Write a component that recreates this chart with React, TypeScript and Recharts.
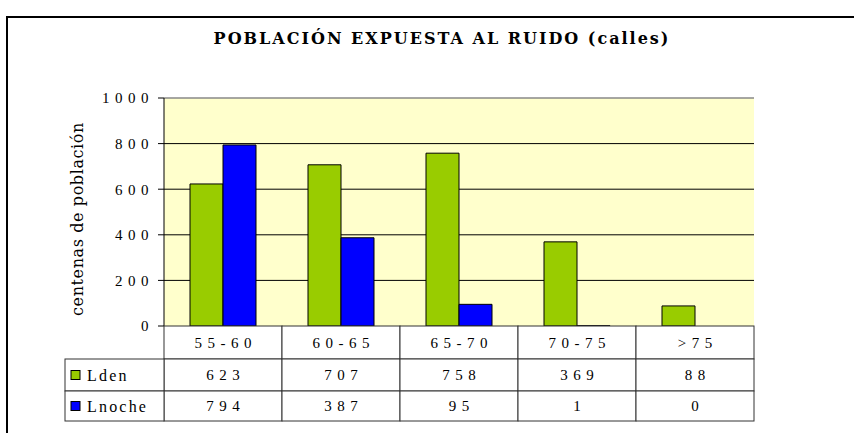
import React from 'react';
import { BarChart, Bar, XAxis, YAxis, CartesianGrid, ReferenceLine } from 'recharts';

const categories = ['55-60', '60-65', '65-70', '70-75', '>75'];
const ldenValues = [623, 707, 758, 369, 88];
const lnocheValues = [794, 387, 95, 1, 0];
const yTicks = [0, 200, 400, 600, 800, 1000];
const gridValues = [200, 400, 600, 800];
const seriesNames = ['Lden', 'Lnoche'];
const chartTitle = 'POBLACIÓN EXPUESTA AL RUIDO (calles)';
const yAxisTitle = 'centenas de población';

const data = categories.map((c, i) => ({ cat: c, Lden: ldenValues[i], Lnoche: lnocheValues[i] }));

const GREEN = '#99CC00';
const BLUE = '#0000FF';
const PLOT_BG = '#FFFFCC';
const WIDE_FONT = '"DejaVu Serif", serif';
const NUM_FONT = '"Liberation Serif", serif';
const TABLE_STROKE = '#333';
const NUM_LS = 5.5;

const CELL_W = 118;
const ROW1 = 33;
const ROW2 = 32;
const ROW3 = 30;
const LEG_W = 99;

function TableTick(props: any) {
  const { x, y, payload } = props;
  const i = categories.indexOf(payload.value);
  const left = x - CELL_W / 2;
  const numStyle = { fontFamily: NUM_FONT, fontSize: 15, letterSpacing: NUM_LS } as any;
  const legStyle = { fontFamily: NUM_FONT, fontSize: 16, letterSpacing: 2.2 } as any;
  const colors = [GREEN, BLUE];
  const series = [ldenValues, lnocheValues];
  return (
    <g>
      <rect x={left} y={y} width={CELL_W} height={ROW1} fill="#fff" stroke={TABLE_STROKE} />
      <text x={x + NUM_LS / 2} y={y + ROW1 / 2} textAnchor="middle" dominantBaseline="central" fill="#000" style={numStyle}>
        {payload.value}
      </text>
      {series.map((vals, s) => {
        const top = y + ROW1 + (s === 0 ? 0 : ROW2);
        const h = s === 0 ? ROW2 : ROW3;
        return (
          <g key={s}>
            <rect x={left} y={top} width={CELL_W} height={h} fill="#fff" stroke={TABLE_STROKE} />
            <text x={x + NUM_LS / 2} y={top + h / 2} textAnchor="middle" dominantBaseline="central" fill="#000" style={numStyle}>
              {vals[i]}
            </text>
            {i === 0 && (
              <g>
                <rect x={left - LEG_W} y={top} width={LEG_W} height={h} fill="#fff" stroke={TABLE_STROKE} />
                <rect x={left - LEG_W + 6} y={top + h / 2 - 4.5} width={9} height={9} fill={colors[s]} stroke="#000" />
                <text x={left - LEG_W + 22} y={top + h / 2} dominantBaseline="central" fill="#000" style={legStyle}>
                  {seriesNames[s]}
                </text>
              </g>
            )}
          </g>
        );
      })}
    </g>
  );
}

function YTitle(props: any) {
  const vb = props.viewBox || { x: 0, y: 98, width: 164, height: 228 };
  const cx = vb.x + vb.width / 2 - 5;
  const cy = vb.y + vb.height / 2 + 7;
  return (
    <text
      x={cx}
      y={cy}
      transform={`rotate(-90, ${cx}, ${cy})`}
      textAnchor="middle"
      dominantBaseline="central"
      fill="#000"
      style={{ fontFamily: WIDE_FONT, fontSize: 16, letterSpacing: 0.6 }}
    >
      {yAxisTitle}
    </text>
  );
}

export default function App() {
  return (
    <div style={{ position: 'absolute', left: 0, top: 0, width: 854, height: 433, overflow: 'hidden', background: '#fff' }}>
      <div
        style={{
          position: 'absolute',
          left: 6,
          top: 16,
          width: 900,
          height: 500,
          border: '2px solid #000',
          boxSizing: 'border-box',
        }}
      />
      <div
        style={{
          position: 'absolute',
          left: 0,
          top: 31,
          width: 884,
          textAlign: 'center',
          fontFamily: WIDE_FONT,
          fontWeight: 'bold',
          fontSize: 16,
          lineHeight: '16px',
          letterSpacing: 2,
          color: '#000',
          whiteSpace: 'nowrap',
        }}
      >
        {chartTitle}
      </div>
      <div style={{ position: 'absolute', left: 0, top: 0 }}>
        <BarChart
          width={854}
          height={433}
          data={data}
          margin={{ top: 98, right: 100, bottom: 0, left: 0 }}
          barGap={0}
          barSize={33}
        >
          <CartesianGrid
            vertical={false}
            horizontalValues={gridValues}
            stroke="#000"
            fill={PLOT_BG}
            fillOpacity={1}
          />
          <ReferenceLine y={1000} stroke="#888" strokeWidth={1.5} />
          <XAxis
            dataKey="cat"
            height={107}
            axisLine={false}
            tickLine={false}
            tickSize={0}
            tickMargin={0}
            interval={0}
            tick={<TableTick />}
          />
          <YAxis
            yAxisId={0}
            width={164}
            domain={[0, 1000]}
            ticks={yTicks}
            interval={0}
            tickSize={6}
            tickMargin={4}
            axisLine={{ stroke: '#000' }}
            tickLine={{ stroke: '#000' }}
            tick={{ fill: '#000', fontFamily: NUM_FONT, fontSize: 15, letterSpacing: NUM_LS }}
            label={<YTitle />}
          />
          <YAxis
            yAxisId="right"
            orientation="right"
            width={0}
            domain={[0, 1000]}
            tick={false}
            tickLine={false}
            axisLine={{ stroke: '#888', strokeWidth: 1.5 }}
          />
          <Bar dataKey="Lden" fill={GREEN} stroke="#000" strokeWidth={1} isAnimationActive={false} />
          <Bar dataKey="Lnoche" fill={BLUE} stroke="#000" strokeWidth={1} isAnimationActive={false} />
        </BarChart>
      </div>
    </div>
  );
}
